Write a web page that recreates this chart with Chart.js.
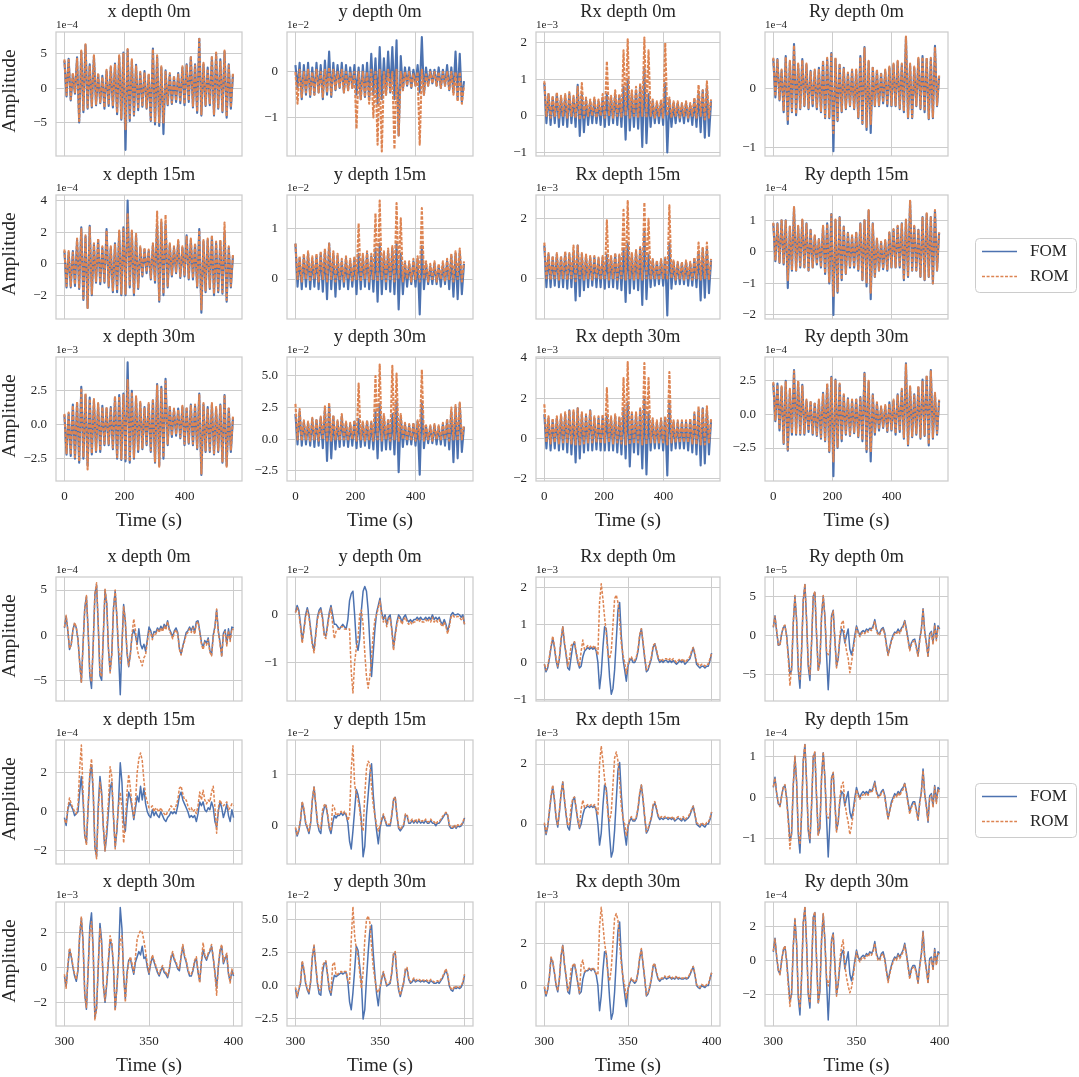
<!DOCTYPE html>
<html>
<head>
<meta charset="utf-8">
<script src="https://cdn.jsdelivr.net/npm/chart.js@4.4.0/dist/chart.umd.min.js"></script>
<style>
  body { margin: 0; background: #fff; }
  #fig { position: relative; width: 1079px; height: 1077px; overflow: hidden; background: #fff; }
  #fig canvas { position: absolute; }
</style>
</head>
<body>
<div id="fig"></div>
<script>
// ---- time axes ----
const timeFull = [0,7,14,21,28,35,42,49,56,63,70,77,84,91,98,105,112,119,126,133,140,147,154,161,168,175,182,189,196,203,210,217,224,231,238,245,252,259,266,273,280,287,294,301,308,315,322,329,336,343,350,357,364,371,378,385,392,399,406,413,420,427,434,441,448,455,462,469,476,483,490,497,504,511,518,525,532,539,546,553,560];
const timeZoom = [300,301,302,303,304,305,306,307,308,309,310,311,312,313,314,315,316,317,318,319,320,321,322,323,324,325,326,327,328,329,330,331,332,333,334,335,336,337,338,339,340,341,342,343,344,345,346,347,348,349,350,351,352,353,354,355,356,357,358,359,360,361,362,363,364,365,366,367,368,369,370,371,372,373,374,375,376,377,378,379,380,381,382,383,384,385,386,387,388,389,390,391,392,393,394,395,396,397,398,399,400];

const titles = ['x depth 0m', 'y depth 0m', 'Rx depth 0m', 'Ry depth 0m',
                'x depth 15m', 'y depth 15m', 'Rx depth 15m', 'Ry depth 15m',
                'x depth 30m', 'y depth 30m', 'Rx depth 30m', 'Ry depth 30m'];

// ---- full record (0-560 s), values in units of the offset shown above each panel ----
const fomX0 = [4.0,-1.2,4.3,-1.8,2.0,-0.8,4.5,-5.0,5.3,-3.5, 6.3,-3.0,3.5,-2.8,4.7,-2.5,2.0,-2.2,1.8,-3.0, 2.5,-2.6,3.0,-2.8,3.6,-3.8,4.6,-4.6,5.2,-9.0, 5.6,-4.8,4.0,-4.0,3.4,-3.2,2.2,-2.7,2.5,-3.0, 1.9,-4.8,5.8,-5.3,4.6,-5.5,3.0,-6.7,2.6,-2.5, 2.0,-2.3,1.6,-2.0,2.2,-2.2,3.0,-2.5,3.5,-2.0, 4.5,-2.8,3.5,-3.6,7.2,-4.0,3.5,-2.6,3.0,-2.5, 4.5,-4.0,5.0,-3.0,4.2,-3.5,5.3,-4.3,3.5,-3.0, 2.0];
const romX0 = [4.2,-1.0,4.1,-1.6,2.2,-0.6,4.3,-4.8,5.5,-3.3, 6.4,-2.8,3.3,-2.6,4.8,-2.3,2.2,-2.0,1.6,-2.8, 2.7,-2.4,3.2,-2.6,3.4,-3.6,4.8,-4.4,5.0,-6.0, 5.7,-4.6,4.2,-3.8,3.2,-3.0,2.4,-2.5,2.3,-2.8, 2.1,-4.6,5.7,-5.0,4.8,-5.0,3.2,-5.0,2.4,-2.3, 2.2,-2.1,1.8,-1.8,2.0,-2.0,3.2,-2.3,3.3,-1.8, 4.7,-2.6,3.3,-3.4,7.4,-3.8,3.7,-2.4,2.8,-2.3, 4.7,-3.8,5.2,-2.8,4.0,-3.3,5.5,-4.1,3.3,-2.8, 2.2];
const fomY0 = [0.15,-0.35,0.2,-0.6,0.15,-0.5,0.2,-0.55,0.1,-0.5, 0.2,-0.45,0.15,-0.6,0.25,-0.5,0.45,-0.55,0.2,-0.4, 0.15,-0.35,0.2,-0.45,0.15,-0.4,0.1,-0.35,0.15,-0.5, 0.1,-0.6,0.15,-0.55,0.2,-0.6,0.4,-0.5,0.3,-0.7, 0.55,-0.6,0.3,-0.5,0.45,-0.45,0.55,-0.6,0.7,-1.4, 0.35,-0.4,0.1,-0.3,0.1,-0.35,0.05,-0.3,0.15,-0.45, 0.77,-0.5,0.1,-0.3,0.05,-0.25,0.05,-0.3,0.1,-0.35, 0.05,-0.3,0.15,-0.4,0.1,-0.45,0.45,-0.6,0.4,-0.65, -0.2];
const romY0 = [0.0,-0.7,0.05,-0.55,0.0,-0.45,0.05,-0.5,0.0,-0.5, 0.05,-0.45,0.0,-0.55,0.05,-0.45,0.1,-0.5,0.05,-0.4, 0.0,-0.35,0.05,-0.45,0.0,-0.4,0.0,-0.35,0.0,-1.25, 0.0,-0.6,0.0,-0.55,0.0,-0.7,0.05,-1.0,0.0,-1.6, 0.05,-1.75,0.0,-0.5,0.05,-0.45,0.0,-1.7,0.05,-1.4, 0.0,-0.4,0.0,-0.3,0.0,-0.35,-0.05,-0.3,0.0,-1.6, 0.05,-0.5,-0.05,-0.3,0.0,-0.25,0.0,-0.3,0.0,-0.35, 0.0,-0.3,0.0,-0.4,0.0,-0.5,0.0,-0.65,0.0,-0.7, -0.3];
const fomRx0 = [0.9,-0.2,0.6,-0.25,0.5,-0.2,0.6,-0.3,0.5,-0.25, 0.55,-0.3,0.6,-0.2,0.5,-0.3,0.85,-0.55,0.6,-0.45, 0.45,-0.25,0.4,-0.2,0.45,-0.2,0.4,-0.25,0.5,-0.3, 0.6,-0.25,0.5,-0.2,0.6,-0.25,0.55,-0.3,0.8,-0.65, 1.0,-0.4,0.6,-0.3,0.7,-0.35,0.8,-0.85,1.3,-0.75, 0.6,-0.3,0.4,-0.2,0.35,-0.2,0.4,-0.25,0.9,-1.0, 0.45,-0.3,0.35,-0.2,0.35,-0.15,0.3,-0.2,0.35,-0.15, 0.3,-0.25,0.45,-0.3,0.6,-0.45,0.7,-0.6,0.8,-0.55, 0.4];
const romRx0 = [0.95,0.0,0.6,-0.05,0.55,0.0,0.65,-0.05,0.55,0.0, 0.6,-0.05,0.65,0.0,0.55,-0.05,0.8,-0.1,0.9,-0.05, 0.5,0.0,0.45,0.0,0.5,-0.05,0.45,0.0,0.6,-0.05, 1.5,0.0,0.55,-0.05,0.7,0.0,0.6,-0.05,1.8,0.0, 2.1,-0.05,0.7,0.0,0.8,-0.05,0.9,0.0,2.15,-0.05, 1.8,0.0,0.45,-0.05,0.4,0.0,0.45,-0.05,2.0,0.0, 0.5,-0.05,0.4,0.0,0.4,-0.05,0.35,0.0,0.4,-0.05, 0.35,0.0,0.5,-0.05,0.85,0.0,0.7,-0.1,0.95,-0.05, 0.45];
const fomRy0 = [0.5,-0.15,0.5,-0.2,0.3,-0.4,0.55,-0.6,0.45,-0.4, 0.75,-0.45,0.4,-0.35,0.5,-0.3,0.4,-0.35,0.3,-0.3, 0.3,-0.35,0.35,-0.4,0.45,-0.5,0.5,-0.5,0.6,-1.06, 0.5,-0.55,0.4,-0.4,0.35,-0.35,0.25,-0.3,0.3,-0.35, 0.3,-0.5,0.55,-0.6,0.7,-0.7,0.45,-0.75,0.35,-0.3, 0.3,-0.3,0.25,-0.25,0.3,-0.3,0.35,-0.3,0.4,-0.3, 0.45,-0.35,0.4,-0.4,0.87,-0.5,0.4,-0.5,0.35,-0.3, 0.5,-0.35,0.55,-0.4,0.5,-0.52,0.5,-0.5,0.72,-0.3, 0.2];
const romRy0 = [0.52,-0.13,0.48,-0.18,0.32,-0.38,0.53,-0.55,0.47,-0.38, 0.73,-0.43,0.42,-0.33,0.48,-0.28,0.42,-0.33,0.28,-0.28, 0.32,-0.33,0.33,-0.38,0.47,-0.48,0.52,-0.48,0.58,-0.75, 0.52,-0.53,0.42,-0.38,0.33,-0.33,0.27,-0.28,0.32,-0.33, 0.32,-0.48,0.53,-0.58,0.68,-0.65,0.47,-0.6,0.37,-0.28, 0.32,-0.28,0.27,-0.23,0.32,-0.28,0.37,-0.28,0.42,-0.28, 0.47,-0.33,0.42,-0.38,0.88,-0.48,0.42,-0.48,0.37,-0.28, 0.52,-0.33,0.53,-0.38,0.52,-0.5,0.52,-0.48,0.7,-0.28, 0.22];
const fomX15 = [0.8,-1.5,0.7,-1.5,0.8,-1.4,1.5,-1.6,2.3,-2.3, 1.7,-2.8,2.4,-2.0,1.2,-1.2,1.5,-1.3,1.0,-1.2, 2.2,-1.5,1.0,-1.8,1.3,-1.8,2.0,-2.0,2.3,-2.0, 4.0,-1.5,2.0,-2.0,1.8,-1.6,1.0,-0.8,0.9,-0.6, 0.8,-1.0,1.2,-1.2,2.5,-2.4,2.6,-2.0,2.5,-1.5, 1.2,-0.8,1.0,-0.6,1.4,-0.9,1.0,-0.8,1.8,-1.0, 1.5,-1.0,1.2,-1.5,2.2,-3.1,1.4,-1.8,1.5,-1.6, 1.7,-2.0,1.3,-1.8,1.4,-1.9,2.0,-2.4,1.0,-1.5, 0.5];
const romX15 = [0.9,-1.4,0.8,-1.4,0.7,-1.3,1.6,-1.5,2.2,-2.2, 1.8,-2.8,2.3,-1.9,1.3,-1.1,1.6,-1.2,1.1,-1.1, 2.1,-1.4,1.1,-1.7,1.2,-1.7,2.1,-1.9,2.2,-1.9, 3.2,-1.4,2.1,-1.9,1.9,-1.5,1.1,-0.7,1.0,-0.5, 0.9,-0.9,1.3,-1.1,3.3,-2.3,2.8,-1.9,3.1,-1.4, 1.3,-0.7,1.1,-0.5,1.5,-0.8,1.1,-0.7,1.7,-0.9, 1.6,-0.9,1.3,-1.4,2.1,-2.9,1.5,-1.7,1.6,-1.5, 1.8,-1.9,1.4,-1.7,1.5,-1.8,2.6,-2.3,1.1,-1.4, 0.6];
const fomY15 = [0.7,-0.15,0.4,-0.2,0.45,-0.15,0.5,-0.2,0.4,-0.15, 0.45,-0.2,0.5,-0.25,0.55,-0.4,0.7,-0.2,0.5,-0.35, 0.45,-0.2,0.35,-0.15,0.4,-0.2,0.35,-0.15,0.4,-0.3, 0.5,-0.2,0.45,-0.15,0.5,-0.2,0.45,-0.25,0.6,-0.45, 0.7,-0.3,0.5,-0.2,0.55,-0.25,0.6,-0.3,0.7,-0.6, 0.5,-0.3,0.3,-0.15,0.3,-0.1,0.35,-0.15,0.4,-0.7, 0.65,-0.2,0.3,-0.1,0.25,-0.1,0.3,-0.1,0.25,-0.15, 0.3,-0.1,0.35,-0.2,0.45,-0.35,0.5,-0.4,0.55,-0.3, 0.3];
const romY15 = [0.7,0.0,0.45,-0.05,0.5,0.0,0.55,-0.05,0.45,0.0, 0.5,-0.05,0.55,0.0,0.6,-0.05,0.7,0.0,0.55,-0.05, 0.5,0.0,0.4,-0.05,0.45,0.0,0.4,-0.05,0.45,0.0, 1.1,-0.05,0.5,0.0,0.55,-0.05,0.5,0.0,1.3,-0.05, 1.55,0.0,0.55,-0.05,0.6,0.0,0.65,-0.05,1.5,0.0, 1.2,-0.05,0.35,0.0,0.35,-0.05,0.4,0.0,0.45,-0.05, 1.4,0.0,0.35,-0.05,0.3,0.0,0.35,-0.05,0.3,0.0, 0.35,-0.05,0.4,0.0,0.5,-0.05,0.55,0.0,0.6,-0.05, 0.35];
const fomRx15 = [1.1,-0.3,0.8,-0.3,0.7,-0.25,0.8,-0.3,0.7,-0.3, 0.85,-0.35,0.8,-0.3,0.9,-0.75,1.1,-0.6,0.8,-0.4, 0.75,-0.3,0.7,-0.25,0.7,-0.3,0.65,-0.3,0.7,-0.35, 0.8,-0.3,0.7,-0.3,0.8,-0.35,0.75,-0.4,1.0,-0.8, 1.2,-0.5,0.8,-0.35,0.9,-0.4,1.0,-0.9,1.6,-0.7, 0.8,-0.3,0.6,-0.25,0.55,-0.2,0.6,-0.25,0.65,-1.25, 1.2,-0.35,0.55,-0.2,0.5,-0.2,0.5,-0.2,0.55,-0.25, 0.5,-0.25,0.65,-0.3,0.9,-0.75,1.0,-0.65,1.0,-0.5, 0.6];
const romRx15 = [1.2,0.0,0.85,-0.05,0.75,0.0,0.85,-0.05,0.75,0.0, 0.9,-0.05,0.85,0.0,1.1,-0.1,1.1,0.0,0.85,-0.05, 0.8,0.0,0.75,-0.05,0.75,0.0,0.7,-0.05,0.75,0.0, 1.95,-0.05,0.75,0.0,0.85,-0.05,0.8,0.0,2.3,-0.05, 2.6,0.0,0.85,-0.05,0.95,0.0,1.05,-0.05,2.55,0.0, 2.0,-0.05,0.65,0.0,0.6,-0.05,0.65,0.0,0.7,-0.05, 2.45,0.0,0.6,-0.05,0.55,0.0,0.55,-0.05,0.6,0.0, 0.55,-0.05,0.7,0.0,1.2,-0.05,1.05,0.0,1.2,-0.05, 0.65];
const fomRy15 = [0.9,-0.3,0.9,-0.35,1.0,-0.4,1.0,-1.15,0.8,-0.6, 1.4,-0.6,0.8,-0.5,1.0,-0.5,0.9,-0.6,0.7,-0.5, 0.5,-0.4,0.4,-0.5,0.8,-0.7,0.9,-1.0,1.2,-2.0, 1.0,-1.3,1.1,-0.9,0.8,-0.7,0.6,-0.5,0.5,-0.5, 0.6,-0.6,0.9,-0.9,1.0,-1.1,1.3,-1.5,0.9,-0.8, 0.4,-0.6,0.3,-0.55,0.35,-0.6,0.6,-0.5,0.7,-0.5, 0.8,-0.5,0.9,-0.9,1.0,-0.8,1.6,-0.6,0.8,-0.6, 0.7,-0.8,1.1,-0.9,1.2,-0.8,1.1,-1.0,1.3,-0.6, 0.6];
const romRy15 = [0.92,-0.28,0.88,-0.33,1.02,-0.38,0.98,-0.9,0.82,-0.58, 1.42,-0.58,0.82,-0.48,1.02,-0.48,0.88,-0.58,0.72,-0.48, 0.52,-0.38,0.42,-0.48,0.82,-0.68,0.88,-0.95,1.18,-1.4, 1.02,-1.25,1.08,-0.88,0.82,-0.68,0.62,-0.48,0.52,-0.48, 0.62,-0.58,0.88,-0.88,1.02,-1.0,1.32,-1.3,0.88,-0.78, 0.42,-0.58,0.32,-0.53,0.37,-0.58,0.62,-0.48,0.72,-0.48, 0.82,-0.48,0.88,-0.88,1.02,-0.78,1.62,-0.58,0.82,-0.58, 0.72,-0.78,1.08,-0.88,1.22,-0.78,1.12,-1.0,1.32,-0.58, 0.62];
const fomX30 = [0.7,-2.2,0.8,-2.3,1.5,-2.5,1.6,-2.8,2.8,-2.5, 2.2,-3.0,2.0,-2.2,1.8,-2.0,1.5,-2.0,1.4,-1.5, 1.2,-1.5,1.3,-1.8,2.0,-2.5,2.2,-2.6,2.3,-2.7, 4.6,-2.8,2.5,-2.5,2.0,-2.0,1.6,-1.8,1.3,-1.5, 1.5,-2.0,1.8,-2.8,3.0,-3.0,2.8,-2.5,3.4,-1.5, 1.3,-0.9,1.1,-0.8,1.2,-1.0,1.3,-1.5,1.2,-1.4, 1.5,-1.5,1.4,-1.8,2.3,-3.7,1.5,-2.0,1.3,-2.0, 1.5,-2.2,1.2,-2.0,1.5,-2.8,2.2,-3.0,1.2,-2.0, 0.5];
const romX30 = [0.8,-2.1,0.9,-2.2,1.4,-2.4,1.7,-2.7,2.7,-2.4, 2.3,-3.3,1.9,-2.1,1.9,-1.9,1.6,-1.9,1.3,-1.4, 1.3,-1.4,1.2,-1.7,2.1,-2.4,2.1,-2.5,2.2,-2.6, 3.3,-2.7,2.4,-2.4,2.1,-1.9,1.7,-1.7,1.2,-1.4, 1.6,-1.9,1.9,-2.7,2.9,-3.1,2.7,-2.4,3.2,-1.4, 1.4,-0.8,1.2,-0.7,1.1,-0.9,1.4,-1.4,1.3,-1.3, 1.4,-1.4,1.5,-1.7,2.2,-3.6,1.6,-1.9,1.2,-1.9, 1.6,-2.1,1.3,-1.9,1.4,-2.7,2.1,-3.1,1.3,-1.9, 0.6];
const fomY30 = [2.0,-0.4,2.2,-0.5,1.4,-0.4,1.3,-0.5,1.6,-0.6, 1.5,-0.5,1.7,-0.7,2.4,-1.7,2.6,-1.5,1.8,-0.8, 1.4,-0.6,1.8,-0.5,1.3,-0.6,1.2,-0.5,1.4,-0.7, 1.6,-0.6,1.3,-0.5,1.4,-0.7,1.3,-0.8,2.2,-1.5, 2.8,-0.9,1.8,-0.8,1.5,-0.8,2.0,-1.2,3.0,-2.6, 1.8,-0.6,1.2,-0.4,1.1,-0.4,1.2,-0.5,1.4,-2.8, 3.0,-0.7,1.0,-0.3,1.0,-0.3,1.1,-0.4,1.0,-0.4, 1.2,-0.5,1.5,-0.8,2.2,-1.8,2.5,-1.5,2.8,-1.0, 1.0];
const romY30 = [2.8,0.0,2.4,-0.1,1.5,0.0,1.4,-0.1,1.7,0.0, 1.6,-0.1,1.8,0.0,2.6,-0.2,2.9,-0.1,1.9,0.0, 1.5,-0.1,2.0,0.0,1.4,-0.1,1.3,0.0,1.5,-0.1, 4.4,0.0,1.4,-0.1,1.5,0.0,1.4,-0.1,5.0,0.0, 5.9,-0.1,2.0,0.0,1.6,-0.1,5.8,0.0,5.2,-0.2, 2.0,0.0,1.3,-0.1,1.2,0.0,1.3,-0.1,1.5,0.0, 5.5,-0.1,1.1,0.0,1.1,-0.1,1.2,0.0,1.1,-0.1, 1.3,0.0,1.6,-0.1,2.5,0.0,2.7,-0.1,2.9,0.0, 1.1];
const fomRx30 = [1.2,-0.5,1.0,-0.6,0.9,-0.5,1.0,-0.6,1.1,-0.55, 1.2,-0.7,1.4,-0.8,1.3,-1.2,1.5,-1.0,1.2,-0.7, 1.1,-0.6,1.4,-0.6,1.0,-0.55,1.0,-0.6,1.1,-0.6, 1.2,-0.6,1.0,-0.6,1.1,-0.7,1.0,-0.8,1.5,-1.0, 1.8,-1.4,1.2,-0.7,1.2,-0.8,1.4,-1.5,2.0,-1.8, 1.3,-0.6,0.9,-0.5,0.8,-0.5,0.9,-0.6,1.0,-1.85, 1.8,-0.6,0.8,-0.5,0.8,-0.5,0.8,-0.5,0.8,-0.6, 0.9,-0.7,1.2,-0.8,1.4,-1.35,1.5,-1.25,1.4,-0.8, 0.9];
const romRx30 = [1.7,-0.2,1.1,-0.25,1.0,-0.2,1.1,-0.25,1.2,-0.2, 1.3,-0.25,1.4,-0.3,1.4,-0.3,1.5,-0.3,1.3,-0.25, 1.2,-0.2,1.4,-0.2,1.1,-0.2,1.1,-0.25,1.2,-0.2, 2.5,-0.2,1.1,-0.25,1.2,-0.2,1.1,-0.25,3.0,-0.3, 3.8,-0.3,1.3,-0.25,1.3,-0.2,1.5,-0.3,3.75,-0.3, 3.0,-0.2,1.0,-0.2,0.9,-0.2,1.0,-0.2,1.1,-0.3, 3.3,-0.2,0.9,-0.2,0.9,-0.2,0.9,-0.2,0.9,-0.2, 1.0,-0.25,1.3,-0.3,1.6,-0.3,1.5,-0.3,1.6,-0.25, 1.0];
const fomRy30 = [2.3,-0.5,2.3,-1.2,2.0,-2.2,2.5,-2.7,1.8,-1.5, 3.3,-1.5,2.4,-1.5,2.2,-1.5,1.0,-1.3,0.9,-1.5, 0.8,-1.6,1.0,-1.8,1.6,-2.0,2.2,-2.8,2.8,-4.6, 2.6,-2.5,2.2,-2.0,1.4,-1.5,1.2,-1.6,1.0,-1.4, 1.1,-1.7,1.3,-2.0,3.1,-2.8,2.4,-3.5,1.5,-1.5, 0.8,-1.2,0.5,-1.0,0.6,-1.3,0.9,-1.2,1.0,-1.5, 1.5,-1.3,1.8,-1.8,3.8,-2.3,2.0,-1.7,1.5,-1.5, 2.0,-1.8,2.6,-1.6,2.8,-2.3,3.3,-1.8,1.5,-1.5, 1.0];
const romRy30 = [2.4,-0.4,2.2,-1.1,2.1,-2.1,2.4,-2.6,1.9,-1.4, 3.2,-1.4,2.5,-1.4,2.1,-1.4,1.1,-1.2,1.0,-1.4, 0.9,-1.5,1.1,-1.7,1.5,-1.9,2.3,-2.7,2.7,-3.5, 2.5,-2.4,2.3,-1.9,1.5,-1.4,1.1,-1.5,1.1,-1.3, 1.2,-1.6,1.2,-1.9,3.0,-2.7,2.5,-2.8,1.4,-1.4, 0.9,-1.1,0.6,-0.9,0.7,-1.2,0.8,-1.1,1.1,-1.4, 1.4,-1.2,1.9,-1.7,3.7,-2.2,2.1,-1.6,1.4,-1.4, 2.1,-1.7,2.5,-1.5,2.9,-2.2,3.2,-1.7,1.6,-1.4, 1.1];

// ---- zoomed window (300-400 s) ----
const fomX0z = [0.8,2.1,0.5,-1.6,-1.0,0.6,1.3,0.8,-0.5,-3.0, -5.2,-1.0,3.0,4.3,0.5,-4.5,-5.9,-1.0,4.5,5.6, 1.0,-4.5,-5.0,0.0,5.0,3.5,-1.5,-4.0,-2.0,3.0, 4.9,2.0,-2.0,-6.6,-1.0,3.4,1.5,-2.0,-3.5,-2.0, 0.0,0.6,0.0,-1.0,0.7,-1.0,-1.5,-1.0,-1.8,-0.5, 0.9,0.5,-0.3,0.4,0.3,0.8,0.5,1.0,0.6,1.2, 0.8,1.6,0.7,0.3,-0.2,0.5,0.8,0.3,-1.5,-2.1, -1.2,-0.5,0.3,0.5,0.9,0.5,1.0,0.3,1.5,1.6, 0.5,-0.8,-1.4,-0.6,-0.9,-0.3,-1.7,-2.2,0.0,1.0, 2.8,0.5,-0.8,-2.3,0.2,0.6,-1.0,0.7,-0.5,0.9, 0.8];
const romX0z = [0.9,2.2,0.6,-1.5,-1.1,0.5,1.4,0.9,-0.4,-3.1, -5.3,-1.2,2.9,4.4,0.6,-4.2,-5.2,-1.2,4.6,5.8, 1.2,-4.2,-4.6,0.2,5.1,3.6,-1.3,-4.2,-2.2,2.9, 5.0,2.2,-1.5,-3.1,-1.5,3.2,1.6,-1.8,-3.4,-2.2, 0.2,1.8,0.5,-1.5,-2.4,-2.8,-3.4,-2.5,-2.2,-0.8, 0.5,0.3,-0.5,0.2,0.1,0.6,0.3,0.8,0.4,1.0, 0.6,1.5,0.5,0.1,-0.4,0.3,0.6,0.1,-1.6,-2.2, -1.3,-0.7,0.1,0.3,0.7,0.3,0.8,0.1,1.3,1.5, 0.3,-1.0,-1.6,-0.8,-1.1,-0.5,-1.9,-2.3,-0.2,0.8, 2.9,0.3,-1.0,-2.4,0.0,0.4,-1.2,0.5,-0.7,0.7, 0.6];
const fomY0z = [0.05,0.2,0.1,-0.2,-0.55,-0.3,0.0,0.15,0.0,-0.3, -0.6,-0.75,-0.4,-0.05,0.1,0.15,-0.05,-0.4,-0.45,-0.2, 0.05,0.2,0.0,-0.2,-0.2,-0.25,-0.3,-0.25,-0.2,-0.25, -0.3,-0.1,0.3,0.45,0.5,0.0,-0.6,-0.75,-0.5,0.1, 0.5,0.6,0.5,0.1,-0.6,-1.3,-0.8,-0.3,0.05,0.2, 0.35,0.05,-0.1,0.0,-0.2,-0.05,0.0,-0.3,-0.7,-0.4, -0.15,0.0,-0.05,-0.15,-0.05,0.0,-0.1,-0.15,-0.1,-0.15, -0.1,-0.1,-0.05,-0.1,-0.05,-0.1,-0.1,-0.05,-0.1,-0.05, -0.1,0.0,-0.1,-0.05,-0.1,-0.05,-0.15,-0.2,-0.1,-0.2, -0.35,-0.2,0.0,0.05,0.0,0.0,0.02,0.0,-0.05,0.0, -0.2];
const romY0z = [0.05,0.15,0.05,-0.25,-0.6,-0.35,-0.05,0.1,-0.05,-0.35, -0.65,-0.8,-0.45,-0.1,0.05,0.1,-0.1,-0.45,-0.5,-0.25, 0.0,0.15,-0.2,-0.5,-0.35,-0.3,-0.3,-0.25,-0.25,-0.3, -0.3,-0.3,-0.3,-1.2,-1.65,-1.0,-0.7,-0.5,0.0,0.1, -0.2,-0.8,-1.3,-1.55,-1.3,-0.9,-0.4,-0.1,0.0,0.15, 0.3,0.0,-0.15,-0.05,-0.25,-0.1,-0.05,-0.35,-0.75,-0.45, -0.2,-0.05,-0.1,-0.2,-0.1,-0.05,-0.15,-0.2,-0.15,-0.2, -0.15,-0.15,-0.1,-0.15,-0.1,-0.15,-0.15,-0.1,-0.15,-0.1, -0.15,-0.05,-0.15,-0.1,-0.15,-0.1,-0.2,-0.25,-0.15,-0.25, -0.4,-0.25,-0.05,0.0,-0.05,-0.05,-0.03,-0.05,-0.1,-0.05, -0.2];
const fomRx0z = [-0.05,-0.25,-0.15,0.1,0.4,0.65,0.4,0.05,-0.15,0.1, 0.6,0.95,0.5,0.2,-0.15,-0.2,0.15,0.45,0.55,0.25, 0.0,-0.15,-0.1,0.15,0.3,0.35,0.4,0.35,0.4,0.35, 0.4,0.3,0.0,-0.7,-0.3,0.4,0.95,0.9,0.3,-0.4, -0.85,-0.7,-0.2,0.6,1.4,1.6,0.7,0.1,-0.2,-0.5, -0.1,0.05,0.1,0.0,0.0,0.1,0.3,0.7,0.9,0.5, 0.1,-0.25,-0.2,-0.05,0.1,0.4,0.5,0.3,0.1,0.0, 0.05,0.0,0.05,0.05,0.0,0.05,0.0,0.05,0.0,-0.05, 0.0,0.05,0.0,0.05,-0.05,0.0,0.05,0.1,0.25,0.4, 0.2,-0.05,-0.1,-0.15,-0.1,-0.1,-0.15,-0.1,-0.1,0.05, 0.25];
const romRx0z = [-0.05,-0.2,-0.1,0.15,0.45,0.7,0.45,0.1,-0.1,0.15, 0.65,0.95,0.55,0.25,-0.1,0.1,0.45,0.5,0.55,0.3, 0.05,-0.1,0.3,0.6,0.35,0.4,0.45,0.4,0.45,0.4, 0.45,0.35,0.2,1.6,2.1,1.7,1.2,0.8,0.2,0.1, 0.3,1.0,1.7,1.8,1.6,1.1,0.5,0.2,0.0,-0.3, -0.05,0.1,0.15,0.05,0.05,0.15,0.35,0.75,0.9,0.55, 0.15,-0.2,-0.15,0.0,0.15,0.45,0.5,0.35,0.15,0.05, 0.1,0.05,0.1,0.1,0.05,0.1,0.05,0.1,0.05,0.0, 0.05,0.1,0.05,0.1,0.0,0.05,0.1,0.15,0.3,0.4, 0.25,0.0,-0.05,-0.1,-0.05,-0.05,-0.1,-0.05,-0.05,0.1, 0.25];
const fomRy0z = [1.0,2.5,0.5,-1.3,-1.2,0.2,1.0,1.2,0.0,-2.5, -5.0,-4.5,1.5,5.0,2.0,-4.5,-6.8,-2.0,4.5,6.5, 2.0,-4.0,-5.8,-1.0,5.0,5.5,0.0,-4.5,-3.5,2.5, 5.0,2.5,-2.5,-7.0,-3.0,2.5,3.2,-0.5,-4.0,-3.0, -0.5,0.8,0.5,-1.0,0.0,0.8,-1.8,-2.5,-1.5,0.0, 1.2,0.5,0.0,0.4,0.6,0.4,0.8,0.6,0.9,0.8, 1.2,2.0,0.8,0.2,0.3,0.8,1.0,0.3,-1.2,-2.5, -1.5,-0.6,0.0,0.4,0.3,0.8,0.4,0.9,1.2,1.9, 0.8,-0.5,-1.8,-1.0,-0.6,-0.5,-1.5,-2.6,-0.5,0.8, 3.4,0.5,-1.0,-2.7,0.2,0.5,-1.0,1.5,-0.5,1.2, 0.8];
const romRy0z = [1.1,2.4,0.6,-1.2,-1.3,0.1,1.1,1.3,-0.2,-3.0, -6.5,-4.0,1.8,5.1,1.8,-4.0,-5.8,-1.8,4.6,6.6, 1.8,-3.8,-5.0,-0.8,5.1,5.6,0.2,-4.6,-3.3,2.6, 5.1,2.3,-2.0,-2.5,-2.0,2.3,3.1,-0.8,-4.2,-2.8, 0.0,1.5,1.9,-0.5,-2.0,-3.0,-4.8,-3.5,-2.0,-0.5, 1.0,0.3,-0.2,0.2,0.4,0.2,0.6,0.4,0.7,0.6, 1.0,1.8,0.6,0.0,0.1,0.6,0.8,0.1,-1.4,-2.6, -1.6,-0.8,-0.2,0.2,0.1,0.6,0.2,0.7,1.0,1.8, 0.6,-0.7,-2.0,-1.2,-0.8,-0.7,-1.7,-2.7,-0.7,0.6, 3.3,0.3,-1.2,-2.8,0.0,0.3,-1.2,1.3,-0.7,1.0, 0.6];
const fomX15z = [-0.3,-0.7,0.1,0.45,0.3,0.1,-0.2,-0.1,0.0,1.0, 1.8,0.6,-1.2,-1.6,0.2,1.8,2.4,1.0,-1.8,-2.3, 0.3,1.8,1.0,-0.8,-2.0,-1.2,0.0,1.2,1.5,-0.3, -1.8,-1.0,0.5,2.5,1.5,-0.5,-1.0,0.2,1.0,0.7, 0.2,-0.4,0.2,0.8,0.5,1.3,0.6,1.2,0.4,0.0, -0.2,-0.3,0.1,-0.2,0.0,-0.2,-0.3,0.0,-0.2,-0.4, -0.5,-0.3,-0.2,0.0,-0.1,0.0,-0.1,0.3,0.8,1.0, 0.6,0.4,0.2,0.0,-0.3,-0.2,-0.3,-0.2,-0.5,-0.1, 0.5,0.3,0.5,0.1,0.0,0.2,0.1,0.5,0.2,-0.5, -0.8,0.0,0.5,0.2,-0.3,0.0,0.4,-0.2,-0.5,0.1, -0.3];
const romX15z = [-0.4,-0.6,0.2,0.7,0.4,0.2,0.0,-0.1,0.3,2.2, 3.4,1.0,-1.2,-1.7,0.3,2.0,2.7,1.2,-1.8,-2.4, 0.0,1.5,0.8,-0.8,-2.0,-0.8,0.5,2.3,1.8,-0.2, -1.9,-0.8,0.3,1.0,0.2,-1.6,-0.6,1.0,1.9,1.2, 0.3,-0.3,0.5,2.0,2.7,3.0,2.6,1.6,0.8,0.5, 0.2,0.2,0.3,0.0,0.2,0.1,0.0,0.2,0.0,-0.1, -0.2,0.0,0.1,0.3,0.2,0.1,0.3,0.6,1.2,1.3, 0.9,0.6,0.6,0.3,0.1,0.2,0.0,0.1,-0.1,0.3, 1.0,0.6,1.1,0.6,0.4,0.6,0.5,1.0,1.3,0.2, -1.1,0.2,0.6,0.4,0.3,0.4,0.5,0.1,0.2,0.4, 0.3];
const fomY15z = [-0.05,-0.2,-0.1,0.1,0.45,0.3,0.05,-0.05,-0.15,0.05, 0.5,0.75,0.4,0.05,-0.1,-0.15,0.2,0.35,0.4,0.2, -0.05,-0.15,0.05,0.2,0.15,0.2,0.2,0.25,0.2,0.25, 0.2,0.05,-0.3,-0.45,-0.1,0.3,0.7,0.6,0.4,0.1, -0.6,-0.4,0.2,0.6,1.0,1.2,0.6,0.2,-0.1,-0.35, -0.05,0.1,0.2,0.1,0.0,0.0,0.0,0.2,0.5,0.55, 0.2,-0.05,-0.1,-0.05,0.0,0.2,0.2,0.05,0.05,0.1, 0.05,0.1,0.05,0.1,0.05,0.08,0.05,0.1,0.05,0.05, 0.1,0.05,0.05,0.0,0.05,0.05,0.1,0.15,0.2,0.25, 0.2,0.0,-0.05,-0.05,0.0,-0.05,0.0,-0.02,0.0,0.05, 0.15];
const romY15z = [-0.03,-0.17,-0.07,0.13,0.47,0.33,0.08,-0.02,-0.12,0.08, 0.52,0.76,0.43,0.08,-0.05,-0.05,0.3,0.4,0.42,0.23, -0.02,-0.1,0.4,0.35,0.2,0.23,0.23,0.28,0.23,0.28, 0.23,0.1,0.2,1.1,1.55,0.8,0.6,0.5,0.3,0.0, -0.1,0.6,1.1,1.25,1.2,0.75,0.4,0.2,0.0,-0.1, 0.0,0.13,0.23,0.13,0.03,0.03,0.03,0.23,0.52,0.56, 0.23,-0.02,-0.07,-0.02,0.03,0.23,0.22,0.08,0.08,0.13, 0.08,0.13,0.08,0.13,0.08,0.1,0.08,0.13,0.08,0.08, 0.13,0.08,0.08,0.03,0.08,0.08,0.13,0.18,0.22,0.26, 0.22,0.02,-0.03,-0.03,0.02,-0.03,0.02,0.0,0.02,0.07, 0.17];
const fomRx15z = [0.0,-0.35,-0.1,0.4,0.9,1.25,0.8,0.2,-0.1,0.4, 1.0,1.4,0.8,0.3,-0.1,-0.2,0.3,0.8,0.9,0.5, 0.1,-0.15,0.0,0.3,0.5,0.55,0.6,0.55,0.6,0.55, 0.6,0.45,0.0,-0.7,-0.3,0.6,1.3,1.2,0.5,-0.4, -1.1,-0.9,-0.2,0.8,1.8,2.05,1.0,0.2,-0.3,-0.7, -0.1,0.1,0.2,0.1,0.1,0.2,0.5,1.0,1.3,0.8, 0.2,-0.3,-0.2,0.0,0.2,0.6,0.7,0.5,0.25,0.15, 0.2,0.15,0.2,0.2,0.15,0.2,0.15,0.2,0.1,0.15, 0.2,0.15,0.1,0.2,0.1,0.15,0.2,0.3,0.45,0.6, 0.3,0.0,-0.05,-0.1,0.0,-0.05,-0.1,0.0,0.0,0.15, 0.4];
const romRx15z = [0.05,-0.3,-0.05,0.45,0.95,1.3,0.85,0.25,-0.05,0.45, 1.05,1.4,0.85,0.35,-0.05,0.0,0.6,0.85,0.9,0.55, 0.15,-0.1,0.5,0.8,0.55,0.6,0.65,0.6,0.65,0.6, 0.65,0.5,0.3,2.0,2.6,2.1,1.5,1.1,0.3,0.1, 0.4,1.3,2.2,2.4,2.1,1.4,0.6,0.2,0.0,-0.4, -0.05,0.15,0.25,0.15,0.15,0.25,0.55,1.05,1.3,0.85, 0.25,-0.25,-0.15,0.05,0.25,0.65,0.75,0.55,0.3,0.2, 0.25,0.2,0.25,0.25,0.2,0.25,0.2,0.25,0.15,0.2, 0.25,0.2,0.15,0.25,0.15,0.2,0.25,0.35,0.5,0.6, 0.35,0.05,0.0,-0.05,0.05,0.0,-0.05,0.05,0.05,0.2, 0.4];
const fomRy15z = [0.25,0.5,0.1,-0.15,-0.2,0.05,0.25,0.3,0.0,-0.5, -1.05,-0.9,0.3,1.0,0.4,-0.9,-1.35,-0.4,0.9,1.3, 0.4,-0.8,-1.1,-0.2,1.0,1.1,0.0,-0.9,-0.75,0.5, 1.1,0.5,-0.5,-1.45,-0.6,0.5,0.6,-0.1,-0.8,-0.6, -0.1,0.15,0.1,-0.2,0.0,0.15,-0.35,-0.5,-0.3,0.0, 0.25,0.1,0.0,0.1,0.15,0.1,0.15,0.1,0.2,0.15, 0.25,0.4,0.15,0.05,0.05,0.15,0.2,0.05,-0.25,-0.5, -0.3,-0.1,0.0,0.1,0.05,0.15,0.1,0.2,0.25,0.35, 0.15,-0.1,-0.35,-0.2,-0.1,-0.1,-0.3,-0.55,-0.1,0.15, 0.7,0.1,-0.2,-0.6,0.05,0.1,-0.2,0.3,-0.1,0.25, 0.2];
const romRy15z = [0.27,0.48,0.12,-0.13,-0.22,0.03,0.27,0.32,-0.05,-0.6, -1.25,-0.8,0.35,1.02,0.36,-0.8,-1.15,-0.36,0.92,1.32, 0.36,-0.76,-1.0,-0.16,1.02,1.12,0.04,-0.92,-0.7,0.52, 1.12,0.46,-0.4,-0.5,-0.4,0.46,0.62,-0.16,-0.84,-0.56, 0.0,0.3,0.38,-0.1,-0.4,-0.6,-0.9,-0.7,-0.4,-0.1, 0.2,0.06,-0.04,0.04,0.08,0.04,0.12,0.06,0.16,0.12, 0.2,0.36,0.12,0.0,0.02,0.12,0.16,0.02,-0.28,-0.52, -0.32,-0.16,-0.04,0.04,0.02,0.12,0.04,0.14,0.2,0.36, 0.12,-0.14,-0.4,-0.24,-0.16,-0.14,-0.34,-0.54,-0.14,0.12, 0.66,0.06,-0.24,-0.56,0.0,0.06,-0.24,0.26,-0.14,0.2, 0.12];
const fomX30z = [-0.5,-1.1,0.0,1.0,0.6,0.0,-0.5,-0.8,-0.2,1.8, 2.8,1.5,-1.5,-2.4,-0.2,2.3,3.1,1.0,-2.9,-2.3, 0.0,2.5,1.5,-1.0,-2.0,-1.0,0.3,1.5,1.3,0.0, -2.4,-1.2,0.5,3.4,2.2,-0.5,-1.8,-0.3,0.4,0.5, 0.0,-0.4,0.3,0.6,0.9,0.7,1.2,0.5,0.6,0.0, -0.4,0.2,0.6,0.3,0.0,-0.3,-0.5,-0.2,0.0,-0.3, -0.4,-0.6,-0.2,0.5,0.8,0.4,0.2,-0.1,-0.2,0.6, 1.2,0.6,0.3,-0.2,-0.5,-0.5,-0.2,0.3,0.5,-0.3, -0.8,0.3,1.0,0.6,0.4,0.7,0.9,1.2,0.5,-0.3, -1.2,0.0,0.9,1.2,0.2,0.5,0.7,-0.4,-0.8,-0.2, -0.5];
const romX30z = [-0.4,-1.2,0.1,1.1,0.7,0.1,-0.4,-0.7,-0.1,1.9, 2.9,1.4,-1.6,-2.3,-0.1,2.0,2.6,0.9,-3.0,-2.4, 0.2,2.2,1.2,-1.1,-1.9,-0.8,0.5,1.8,1.4,0.1, -2.5,-1.1,0.4,1.6,1.8,-0.4,-2.0,-0.5,0.3,0.6, 0.2,-0.3,0.6,1.6,1.9,2.1,2.0,1.5,0.9,0.2, -0.3,0.3,0.7,0.4,0.1,-0.2,-0.4,-0.1,0.1,-0.2, -0.3,-0.5,-0.1,0.6,0.9,0.5,0.3,0.0,-0.1,0.7, 1.3,0.7,0.4,-0.1,-0.4,-0.4,-0.1,0.4,0.6,-0.2, -0.9,0.4,1.4,0.7,0.5,0.8,1.0,1.3,0.6,-0.4, -1.6,0.1,1.0,1.3,0.3,0.6,0.8,-0.3,-0.9,-0.1, -0.4];
const fomY30z = [-0.2,-0.9,-0.3,0.2,1.8,1.2,0.2,-0.3,-0.6,0.3, 2.2,3.0,1.5,0.2,-0.6,-0.7,1.0,1.7,1.8,0.8, -0.3,-0.7,0.2,0.8,0.7,0.8,0.9,1.0,0.9,1.0, 1.0,0.3,-1.2,-1.8,-0.5,1.2,3.0,2.7,1.5,0.3, -2.5,-1.8,0.5,2.5,4.2,4.6,2.5,0.8,-0.6,-1.5, -0.2,0.5,1.0,0.5,0.0,0.1,0.2,1.0,2.4,2.5, 0.8,-0.3,-0.8,-0.3,0.2,1.2,1.3,0.5,0.2,0.3, 0.5,0.3,0.4,0.4,0.3,0.4,0.3,0.4,0.3,0.2, 0.4,0.3,0.2,0.2,0.3,0.2,0.4,0.6,0.9,1.2, 0.8,0.0,-0.3,-0.4,-0.1,-0.2,-0.1,-0.2,-0.1,0.2, 0.8];
const romY30z = [-0.1,-0.8,-0.2,0.3,1.9,1.3,0.3,-0.2,-0.5,0.4, 2.3,3.1,1.6,0.3,-0.3,-0.3,1.5,1.8,1.9,0.9, -0.2,-0.5,1.6,1.8,0.8,0.9,1.0,1.1,1.0,1.1, 1.1,0.4,0.2,3.5,6.0,3.8,2.8,2.3,1.0,-0.2, 1.0,3.5,5.0,5.3,4.8,3.0,1.4,0.5,-0.3,-0.5, -0.1,0.6,1.1,0.6,0.1,0.2,0.3,1.1,2.5,2.6, 0.9,-0.2,-0.7,-0.2,0.3,1.3,1.4,0.6,0.3,0.4, 0.6,0.4,0.5,0.5,0.4,0.5,0.4,0.5,0.4,0.3, 0.5,0.4,0.3,0.3,0.4,0.3,0.5,0.7,1.0,1.3, 0.9,0.1,-0.2,-0.3,0.0,-0.1,0.0,-0.1,0.0,0.3, 0.9];
const fomRx30z = [-0.1,-0.5,-0.2,0.4,1.3,1.1,0.6,0.0,-0.3,0.3, 1.4,1.9,1.0,0.4,-0.3,-0.4,0.3,0.9,1.0,0.6, 0.1,-0.4,-0.3,0.3,0.6,0.7,0.7,0.8,0.7,0.8, 0.7,0.5,0.0,-1.2,-0.5,0.7,1.6,1.5,0.6,-0.6, -1.6,-1.3,-0.3,1.2,2.6,3.0,1.3,0.3,-0.4,-1.0, -0.2,0.1,0.3,0.2,0.1,0.2,0.6,1.3,1.7,1.0, 0.3,-0.5,-0.4,-0.1,0.3,0.9,1.0,0.6,0.3,0.2, 0.3,0.3,0.4,0.3,0.35,0.4,0.3,0.35,0.3,0.4, 0.3,0.35,0.3,0.3,0.35,0.3,0.35,0.5,0.7,0.9, 0.5,0.0,-0.1,-0.15,0.0,-0.05,-0.1,0.0,0.0,0.3, 0.6];
const romRx30z = [-0.05,-0.45,-0.15,0.45,1.35,1.15,0.65,0.05,-0.25,0.35, 1.45,1.9,1.05,0.45,-0.25,0.0,0.8,0.95,1.05,0.65, 0.15,-0.35,1.0,1.2,0.65,0.75,0.75,0.85,0.75,0.85, 0.75,0.55,0.5,2.8,3.7,2.9,2.0,1.5,0.5,0.2, 0.8,2.0,3.2,3.4,3.1,2.0,1.0,0.4,0.0,-0.6, -0.15,0.15,0.35,0.25,0.15,0.25,0.65,1.35,1.75,1.05, 0.35,-0.45,-0.35,-0.05,0.35,0.95,1.05,0.65,0.35,0.25, 0.35,0.35,0.45,0.35,0.4,0.45,0.35,0.4,0.35,0.45, 0.35,0.4,0.35,0.35,0.4,0.35,0.4,0.55,0.75,0.9, 0.55,0.05,-0.05,-0.1,0.05,0.0,-0.05,0.05,0.05,0.35, 0.6];
const fomRy30z = [0.5,1.3,0.2,-0.6,-0.8,0.0,0.6,0.8,0.0,-1.2, -2.4,-2.0,0.8,2.4,1.0,-2.2,-3.2,-1.0,2.2,3.1, 1.0,-2.0,-2.8,-0.5,2.5,2.8,0.0,-2.5,-1.8,1.2, 2.7,1.2,-1.2,-3.5,-1.4,1.2,1.6,-0.2,-2.0,-1.4, -0.3,0.4,0.6,-0.5,0.0,0.5,-0.8,-1.2,-0.7,0.0, 0.6,0.2,0.0,0.2,0.3,0.2,0.4,0.3,0.5,0.4, 0.6,1.1,0.4,0.1,0.1,0.4,0.5,0.1,-0.6,-1.2, -0.7,-0.3,0.0,0.2,0.1,0.4,0.2,0.4,0.6,1.0, 0.4,-0.3,-1.0,-0.5,-0.3,-0.3,-0.7,-1.3,-0.3,0.4, 1.7,0.2,-0.5,-1.3,0.1,0.2,-0.5,0.7,-0.2,0.5, 0.4];
const romRy30z = [0.55,1.25,0.25,-0.55,-0.85,-0.05,0.65,0.85,-0.1,-1.5, -2.7,-1.8,0.9,2.45,0.9,-2.0,-2.8,-0.9,2.25,3.15, 0.9,-1.9,-2.5,-0.4,2.55,2.85,0.1,-2.55,-1.7,1.25, 2.75,1.1,-1.0,-1.5,-1.0,1.1,1.55,-0.4,-2.1,-1.3, 0.0,0.8,1.2,-0.3,-1.0,-1.5,-1.9,-1.6,-1.0,-0.2, 0.5,0.1,-0.1,0.1,0.2,0.1,0.3,0.2,0.4,0.3, 0.5,1.0,0.3,0.0,0.0,0.3,0.4,0.0,-0.7,-1.3, -0.8,-0.4,-0.1,0.1,0.0,0.3,0.1,0.3,0.5,0.9, 0.3,-0.4,-1.1,-0.6,-0.4,-0.4,-0.8,-1.35,-0.4,0.3, 1.65,0.1,-0.6,-1.35,0.0,0.1,-0.6,0.6,-0.3,0.4, 0.3];

// ---- tick labels ----
const xTicksFull = [0, 200, 400];
const xTicksZoom = [300, 350, 400];
const yTicksFull = [[-5, 0, 5], [-1, 0], [-1, 0, 1, 2], [-1, 0],
                    [-2, 0, 2, 4], [0, 1], [0, 2], [-2, -1, 0, 1],
                    [-2.5, 0, 2.5], [-2.5, 0, 2.5, 5], [-2, 0, 2, 4], [-2.5, 0, 2.5]];
const yTicksZoom = [[-5, 0, 5], [-1, 0], [-1, 0, 1, 2], [-5, 0, 5],
                    [-2, 0, 2], [0, 1], [0, 2], [-1, 0, 1],
                    [-2, 0, 2], [-2.5, 0, 2.5, 5], [0, 2], [-2, 0, 2]];
const expFull = [-4, -2, -3, -4, -4, -2, -3, -4, -3, -2, -3, -4];
const expZoom = [-4, -2, -3, -5, -4, -2, -3, -4, -3, -2, -3, -4];

// ---- layout ----
const FOM_COLOR = '#4c72b0', ROM_COLOR = '#dd8452', GRID = '#cccccc', INK = '#262626';
const SERIF = '"Liberation Serif", "Times New Roman", serif';
const colLeft = [56, 287, 536, 765];
const colWidth = [186, 186, 184, 183];
const rowTop = [32, 195, 357, 577, 740, 902];
const BOX_H = 124;
const PAD_L = 56, PAD_T = 32, PAD_B = 52, Y_AXIS_W = 50;
const legendTop = [238, 783];

const yLimFull = [[-9.9, 8.2], [-1.85, 0.88], [-1.1, 2.3], [-1.14, 0.955],
                  [-3.5, 4.35], [-0.79, 1.66], [-1.37, 2.8], [-2.13, 1.8],
                  [-4.15, 5.0], [-3.29, 6.5], [-2.12, 4.05], [-4.95, 4.27]];
const yLimZoom = [[-7.3, 6.45], [-1.82, 0.8], [-1.03, 2.28], [-8.44, 7.47],
                  [-2.67, 3.66], [-0.74, 1.66], [-1.33, 2.8], [-1.62, 1.41],
                  [-3.35, 3.72], [-3.03, 6.35], [-1.92, 3.95], [-3.85, 3.42]];

const fomFull = [fomX0, fomY0, fomRx0, fomRy0, fomX15, fomY15, fomRx15, fomRy15, fomX30, fomY30, fomRx30, fomRy30];
const romFull = [romX0, romY0, romRx0, romRy0, romX15, romY15, romRx15, romRy15, romX30, romY30, romRx30, romRy30];
const fomZoom = [fomX0z, fomY0z, fomRx0z, fomRy0z, fomX15z, fomY15z, fomRx15z, fomRy15z, fomX30z, fomY30z, fomRx30z, fomRy30z];
const romZoom = [romX0z, romY0z, romRx0z, romRy0z, romX15z, romY15z, romRx15z, romRy15z, romX30z, romY30z, romRx30z, romRy30z];

function tickFormatter(ticks) {
  const dec = ticks.some(v => !Number.isInteger(v)) ? 1 : 0;
  return v => (v < 0 ? '\u2212' : '') + Math.abs(v).toFixed(dec);
}

// titles, offset text, axis labels, frame and legend
const decor = {
  id: 'decor',
  afterDraw(chart, args, o) {
    const { ctx, chartArea: a } = chart;
    ctx.save();
    ctx.strokeStyle = GRID;
    ctx.lineWidth = 1.25;
    ctx.strokeRect(a.left, a.top, a.right - a.left, a.bottom - a.top);

    ctx.fillStyle = INK;
    ctx.textAlign = 'center';
    ctx.textBaseline = 'middle';
    ctx.font = '18.5px ' + SERIF;
    ctx.fillText(o.title, (a.left + a.right) / 2, a.top - 20);

    ctx.font = '11px ' + SERIF;
    ctx.textAlign = 'left';
    ctx.textBaseline = 'alphabetic';
    ctx.fillText('1e\u2212' + (-o.exp), a.left, a.top - 4);

    if (o.ylabel) {
      ctx.save();
      ctx.translate(a.left - 46, (a.top + a.bottom) / 2 - 3);
      ctx.rotate(-Math.PI / 2);
      ctx.font = '19.5px ' + SERIF;
      ctx.textAlign = 'center';
      ctx.textBaseline = 'middle';
      ctx.fillText('Amplitude', 0, 0);
      ctx.restore();
    }
    if (o.xlabel) {
      ctx.font = '19.5px ' + SERIF;
      ctx.textAlign = 'center';
      ctx.textBaseline = 'middle';
      ctx.fillText('Time (s)', (a.left + a.right) / 2, a.bottom + 40);
    }
    if (o.legendAt) {
      const lx = o.legendAt[0], ly = o.legendAt[1];
      ctx.fillStyle = 'rgba(255,255,255,0.8)';
      ctx.strokeStyle = GRID;
      ctx.lineWidth = 1;
      ctx.beginPath();
      ctx.roundRect(lx + 0.5, ly + 0.5, 101, 54, 4);
      ctx.fill();
      ctx.stroke();
      ctx.font = '17px ' + SERIF;
      ctx.textAlign = 'left';
      ctx.textBaseline = 'middle';
      const order = [1, 0];
      order.forEach((di, k) => {
        const ds = chart.data.datasets[di];
        const y = ly + 13.5 + k * 25;
        ctx.strokeStyle = ds.borderColor;
        ctx.lineWidth = 1.5;
        ctx.setLineDash(ds.borderDash ? [3, 1.6] : []);
        ctx.beginPath();
        ctx.moveTo(lx + 7, y);
        ctx.lineTo(lx + 42, y);
        ctx.stroke();
        ctx.setLineDash([]);
        ctx.fillStyle = INK;
        ctx.fillText(ds.label, lx + 55, y);
      });
    }
    ctx.restore();
  }
};

function makePanel(p) {
  const fig = document.getElementById('fig');
  const left = colLeft[p.col] - PAD_L;
  const top = rowTop[p.row] - PAD_T;
  const padR = p.legend ? 1079 - colLeft[p.col] - colWidth[p.col] : 14;
  const cv = document.createElement('canvas');
  cv.width = PAD_L + colWidth[p.col] + padR;
  cv.height = PAD_T + BOX_H + PAD_B;
  cv.style.left = left + 'px';
  cv.style.top = top + 'px';
  fig.appendChild(cv);

  const tickFont = { family: SERIF, size: 13 };
  const yFmt = tickFormatter(p.yTicks);
  new Chart(cv, {
    type: 'line',
    data: {
      labels: p.time,
      datasets: [
        { label: 'ROM', data: p.rom, borderColor: ROM_COLOR, borderWidth: p.lw, borderDash: p.dash,
          pointRadius: 0, tension: 0, borderJoinStyle: 'round', order: 1 },
        { label: 'FOM', data: p.fom, borderColor: FOM_COLOR, borderWidth: p.lw,
          pointRadius: 0, tension: 0, borderJoinStyle: 'round', order: 2 }
      ]
    },
    options: {
      responsive: false,
      maintainAspectRatio: false,
      animation: false,
      events: [],
      layout: { padding: { left: PAD_L - Y_AXIS_W, top: PAD_T, right: padR, bottom: 0 } },
      plugins: {
        legend: { display: false },
        tooltip: { enabled: false },
        decor: {
          title: p.title, exp: p.exp, ylabel: p.col === 0, xlabel: p.showX,
          legendAt: p.legend ? [975 - left, legendTop[p.group] - top] : null
        }
      },
      scales: {
        x: {
          type: 'linear', min: p.xlim[0], max: p.xlim[1],
          afterBuildTicks: s => { s.ticks = p.xTicks.map(v => ({ value: v })); },
          afterFit: s => { s.height = PAD_B; },
          grid: { color: GRID, lineWidth: 1, drawTicks: false },
          border: { display: false },
          ticks: { display: p.showX, padding: 8, color: INK, font: tickFont, maxRotation: 0,
                   callback: v => String(v) }
        },
        y: {
          type: 'linear', min: p.ylim[0], max: p.ylim[1],
          afterBuildTicks: s => { s.ticks = p.yTicks.map(v => ({ value: v })); },
          afterFit: s => { s.width = Y_AXIS_W; },
          grid: { color: GRID, lineWidth: 1, drawTicks: false },
          border: { display: false },
          ticks: { padding: 9, color: INK, font: tickFont, callback: v => yFmt(v) }
        }
      }
    },
    plugins: [decor]
  });
}

for (let i = 0; i < 12; i++) {
  makePanel({
    group: 0, row: Math.floor(i / 4), col: i % 4, title: titles[i], exp: expFull[i],
    time: timeFull, fom: fomFull[i], rom: romFull[i], lw: 2.1, dash: [3.5, 1.4],
    xlim: [-28, 590], xTicks: xTicksFull, ylim: yLimFull[i], yTicks: yTicksFull[i],
    showX: i >= 8, legend: i === 7
  });
  makePanel({
    group: 1, row: 3 + Math.floor(i / 4), col: i % 4, title: titles[i], exp: expZoom[i],
    time: timeZoom, fom: fomZoom[i], rom: romZoom[i], lw: 1.5, dash: [3, 1.6],
    xlim: [295, 405], xTicks: xTicksZoom, ylim: yLimZoom[i], yTicks: yTicksZoom[i],
    showX: i >= 8, legend: i === 7
  });
}
</script>
</body>
</html>
